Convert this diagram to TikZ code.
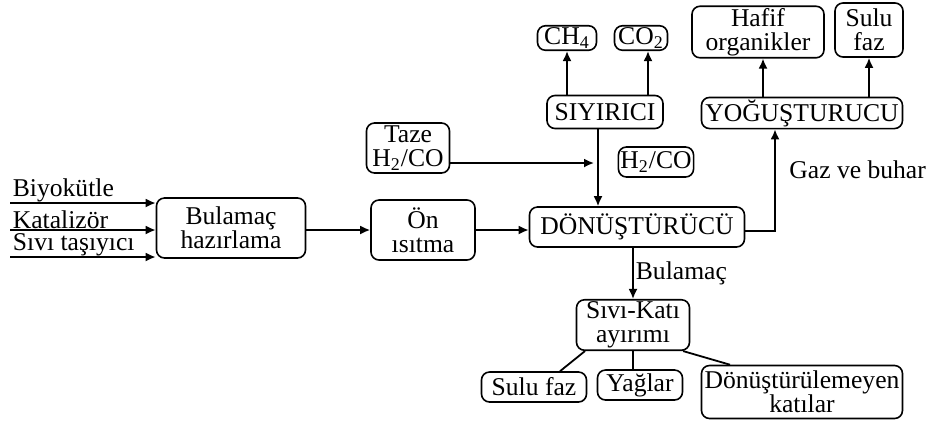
\documentclass[tikz,border=0pt]{standalone}
\usepackage{fontspec}
\setmainfont{Liberation Serif}
\usetikzlibrary{positioning, arrows.meta, calc}

\begin{document}
\begin{tikzpicture}[x=0.5pt, y=-0.5pt,
    box/.style = {rectangle, rounded corners=4pt, draw, line width=0.8pt,
        align=center, inner sep=1pt, font=\fontsize{12.8}{12}\selectfont},
    msg/.style = {-{Latex[length=5pt, width=4.5pt]}, line width=0.9pt},
    link/.style = {line width=0.9pt},
    msglabel/.style = {font=\fontsize{12.8}{12}\selectfont, inner sep=1pt},
    inlabel/.style = {msglabel, inner sep=0pt, anchor=south west, xshift=1pt},
]
\useasboundingbox (0,0) rectangle (931,420);

% main line
\node[box, minimum width=74.5pt, minimum height=30pt] (hazir) at (231,228) {Bulamaç\\hazırlama};
\node[box, minimum width=52pt, minimum height=30pt] (onis) at (423,230) {Ön\\ısıtma};
\node[box, minimum width=107.5pt, minimum height=20pt] (donus) at (637,227) {DÖNÜŞTÜRÜCÜ};

% gas side
\node[box, minimum width=41.5pt, minimum height=25pt] (taze) at (408,148) {Taze\\H\textsubscript{2}/CO};
\node[box, minimum width=36pt, minimum height=15pt] (hco) at (656,162) {H\textsubscript{2}/CO};
\node[box, minimum width=58pt, minimum height=16.5pt] (siyir) at (605,112) {SIYIRICI};
\node[box, minimum width=29.5pt, minimum height=12pt] (ch4) at (567,38) {CH\textsubscript{4}};
\node[box, minimum width=26.5pt, minimum height=12pt] (co2) at (641,38) {CO\textsubscript{2}};

% condenser
\node[box, minimum width=100.5pt, minimum height=15pt] (yogus) at (802,113) {YOĞUŞTURUCU};
\node[box, minimum width=66pt, minimum height=25pt] (hafif) at (758,32) {Hafif\\organikler};
\node[box, minimum width=34pt, minimum height=27pt] (sulua) at (869,30) {Sulu\\faz};

% separation
\node[box, minimum width=56.5pt, minimum height=23.5pt] (ayir) at (633,325) {Sıvı-Katı\\ayırımı};
\node[box, minimum width=52.5pt, minimum height=15pt] (sulub) at (534,387) {Sulu faz};
\node[box, minimum width=42.5pt, minimum height=15pt] (yag) at (640,385) {Yağlar};
\node[box, minimum width=100.5pt, minimum height=26.5pt] (kati) at (802,392) {Dönüştürülemeyen\\katılar};

% inputs
\coordinate (in1) at (10,203);
\coordinate (in2) at (10,230);
\coordinate (in3) at (10,257);
\draw[msg] (in1) node[inlabel] {Biyokütle} -- (in1 -| hazir.west);
\draw[msg] (in2) node[inlabel] {Katalizör} -- (in2 -| hazir.west);
\draw[msg] (in3) node[inlabel] {Sıvı taşıyıcı} -- (in3 -| hazir.west);

\draw[msg] (hazir.east |- onis) -- (onis.west);
\draw[msg] (onis.east) -- (onis.east -| donus.west);

% gas loop
\coordinate (mix) at (598,163);
\draw[msg, shorten >=2pt] (taze.east |- mix) -- (mix);
\draw[msg] (siyir.south -| mix) -- (donus.north -| mix);
\draw[msg] (siyir.north -| ch4) -- (ch4.south);
\draw[msg] ([xshift=3.5pt]siyir.north -| co2) -- ([xshift=3.5pt]co2.south);

\coordinate (gaz) at (775,170);
\draw[msg] ([yshift=-2pt]donus.east) -| (yogus.south -| gaz);
\node[msglabel, right=6pt of gaz] {Gaz ve buhar};
\draw[msg] ([xshift=2.5pt]yogus.north -| hafif) -- ([xshift=2.5pt]hafif.south);
\draw[msg] (yogus.north -| sulua) -- (sulua.south);

% slurry
\draw[msg] (donus.south -| ayir.north) -- node[msglabel, right] {Bulamaç} (ayir.north);
\draw[link] ([xshift=-24pt]ayir.south) -- ([xshift=13pt]sulub.north);
\draw[link] (ayir.south) -- (ayir.south |- yag.north);
\draw[link] ([xshift=25pt]ayir.south) -- ([xshift=-36pt]kati.north);

\end{tikzpicture}
\end{document}
